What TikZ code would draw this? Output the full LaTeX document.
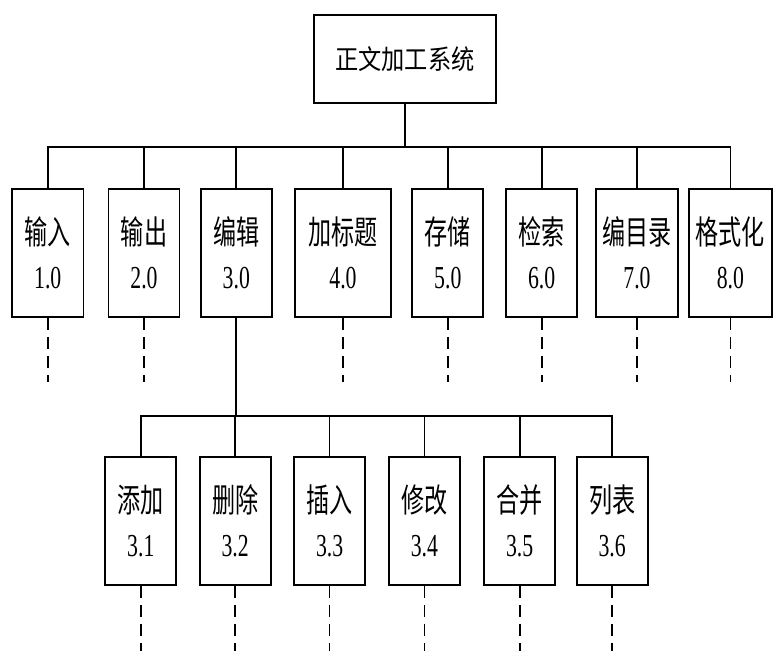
\documentclass[tikz,border=0pt]{standalone}
\usepackage{fontspec}
\setmainfont[FakeStretch=0.68]{Liberation Serif}
\newfontfamily\cjk[FakeStretch=0.70]{Noto Sans CJK SC}
\newfontfamily\cjktop[FakeStretch=0.86]{Noto Sans CJK SC}
\begin{document}
\begin{tikzpicture}[x=1pt,y=-1pt,
  line width=1.7pt,
  box/.style={draw, line width=1.9pt, inner sep=0pt, align=center, minimum height=127.7pt, font=\fontsize{32}{44}\selectfont},
  subbox/.style={box, minimum width=71.2pt},
  dashline/.style={dash pattern=on 12pt off 7pt}]
\useasboundingbox (0,0) rectangle (780,670);
\fill[white] (0,0) rectangle (780,670);
% root
\node[draw, line width=1.9pt, minimum width=181.7pt, minimum height=87.7pt, inner sep=0pt, font=\cjktop\fontsize{27}{30}\selectfont] (root) at (404.9,58.9) {正文加工系统};
% level 1
\node[box, minimum width=71.5pt] (a1) at (47.75,253) {{\cjk\fontsize{33}{44}\selectfont 输入}\\1.0};
\node[box, minimum width=71pt]   (a2) at (144,253) {{\cjk\fontsize{33}{44}\selectfont 输出}\\2.0};
\node[box, minimum width=71.5pt] (a3) at (236.3,253) {{\cjk\fontsize{33}{44}\selectfont 编辑}\\3.0};
\node[box, minimum width=96pt]   (a4) at (343,253) {{\cjk\fontsize{33}{44}\selectfont 加标题}\\4.0};
\node[box, minimum width=71pt]   (a5) at (447.8,253) {{\cjk\fontsize{33}{44}\selectfont 存储}\\5.0};
\node[box, minimum width=71pt]   (a6) at (541.7,253) {{\cjk\fontsize{33}{44}\selectfont 检索}\\6.0};
\node[box, minimum width=82pt]   (a7) at (637,253) {{\cjk\fontsize{33}{44}\selectfont 编目录}\\7.0};
\node[box, minimum width=82.7pt] (a8) at (730.4,253) {{\cjk\fontsize{33}{44}\selectfont 格式化}\\8.0};
% level 2
\node[subbox] (b1) at (140.8,521) {{\cjk\fontsize{33}{44}\selectfont 添加}\\3.1};
\node[subbox] (b2) at (235.2,521) {{\cjk\fontsize{33}{44}\selectfont 删除}\\3.2};
\node[subbox] (b3) at (329.6,521) {{\cjk\fontsize{33}{44}\selectfont 插入}\\3.3};
\node[subbox] (b4) at (424.4,521) {{\cjk\fontsize{33}{44}\selectfont 修改}\\3.4};
\node[subbox] (b5) at (519.7,521) {{\cjk\fontsize{33}{44}\selectfont 合并}\\3.5};
\node[subbox] (b6) at (612.2,521) {{\cjk\fontsize{33}{44}\selectfont 列表}\\3.6};
% buses
\coordinate (bus1) at (0,146.7);
\coordinate (bus2) at (0,415.7);
\draw (root.south) -- (root.south |- bus1);
\draw (a1.north) -- (a1.north |- bus1) -- (a8.north |- bus1) -- (a8.north);
\foreach \i in {2,...,7} \draw (a\i.north) -- (a\i.north |- bus1);
\draw (b1.north) -- (b1.north |- bus2) -- (b6.north |- bus2) -- (b6.north);
\foreach \i in {2,...,5} \draw (b\i.north) -- (b\i.north |- bus2);
\draw (a3.south) -- (a3.south |- bus2);
% dashed continuations
\foreach \i in {1,2,4,5,6,7,8} \draw[dashline] (a\i.south) -- ++(0,64);
\foreach \i in {1,...,6} \draw[dashline] (b\i.south) -- ++(0,65);
\end{tikzpicture}
\end{document}
